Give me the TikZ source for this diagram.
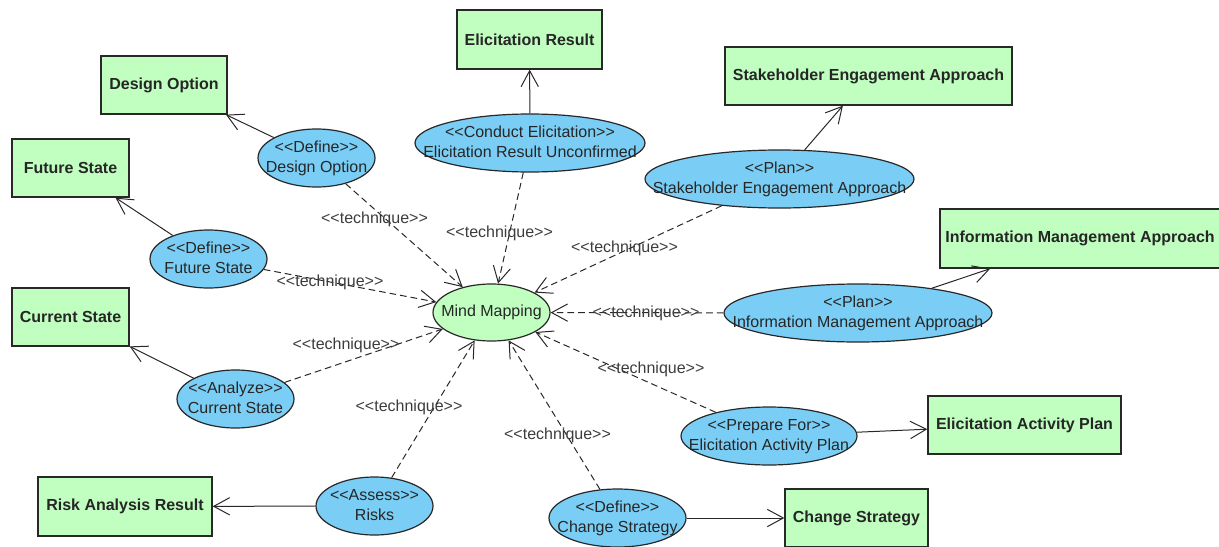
\documentclass[tikz,border=0pt]{standalone}
\usepackage{fontspec}
\setmainfont{Liberation Sans}
\usetikzlibrary{shapes.geometric,arrows.meta}

\definecolor{boxgreen}{RGB}{192,255,192}
\definecolor{ucblue}{RGB}{122,206,245}
\definecolor{edgegray}{RGB}{40,40,40}
\definecolor{labelgray}{RGB}{60,60,60}

% guillemet-style stereotype brackets without font ligatures
\newcommand{\stereo}[1]{<{}<#1>{}>}
% two centred lines that do not widen the ellipse around them
\newcommand{\twolines}[2]{\makebox[0pt]{\begin{tabular}{@{}c@{}}#1\\#2\end{tabular}}}

\tikzset{
  artifact/.style 2 args={draw=edgegray, line width=1pt, fill=boxgreen,
    rectangle, inner sep=0pt, minimum width=#1*0.75pt, minimum height=#2*0.75pt,
    font=\bfseries\fontsize{12}{14}\selectfont, text=black!85},
  usecase/.style 2 args={draw=edgegray, line width=0.9pt, fill=ucblue,
    ellipse, inner sep=0pt, minimum width=#1*0.75pt, minimum height=#2*0.75pt,
    font=\fontsize{12}{15}\selectfont, text=black!85},
  hub/.style 2 args={usecase={#1}{#2}, fill=boxgreen},
  opentip/.tip={Straight Barb[length=12pt, width=13pt, line width=0.75pt]},
  assoc/.style={draw=edgegray, line width=0.75pt, -opentip},
  technique/.style={draw=edgegray, line width=0.75pt, dash pattern=on 5pt off 3pt, -opentip},
  techlabel/.style={font=\fontsize{12}{14}\selectfont, text=labelgray, inner sep=0pt},
}

\begin{document}
\begin{tikzpicture}[x=0.75pt, y=-0.75pt]
\useasboundingbox (0,0) rectangle (1219,546);

% central technique
\node[hub={117}{57}] (mm) at (491.5,312.5) {\makebox[0pt]{Mind Mapping}};

% tasks
\node[usecase={117}{58}] (uDes) at (316.5,158) {\twolines{\stereo{Define}}{Design Option}};
\node[usecase={117}{58}] (uFut) at (208.5,259) {\twolines{\stereo{Define}}{Future State}};
\node[usecase={117}{58}] (uCur) at (235.5,399) {\twolines{\stereo{Analyze}}{Current State}};
\node[usecase={117}{58}] (uRisk) at (374.5,506) {\twolines{\stereo{Assess}}{Risks}};
\node[usecase={230}{58}] (uEli) at (530,143) {\twolines{\stereo{Conduct Elicitation}}{Elicitation Result Unconfirmed}};
\node[usecase={269}{58}] (uStk) at (779.5,179) {\twolines{\stereo{Plan}}{Stakeholder Engagement Approach}};
\node[usecase={268}{58}] (uInf) at (858,313) {\twolines{\stereo{Plan}}{Information Management Approach}};
\node[usecase={176}{58}] (uEap) at (769,436) {\twolines{\stereo{Prepare For}}{Elicitation Activity Plan}};
\node[usecase={137}{58}] (uChg) at (617.5,518) {\twolines{\stereo{Define}}{Change Strategy}};

% outputs
\node[artifact={126}{58}] (bDes) at (164,85) {Design Option};
\node[artifact={117}{58}] (bFut) at (70.5,168) {Future State};
\node[artifact={117}{58}] (bCur) at (70.5,317) {Current State};
\node[artifact={174}{59}] (bRisk) at (125,506.5) {Risk Analysis Result};
\node[artifact={145}{59}] (bEli) at (529.5,39.5) {Elicitation Result};
\node[artifact={287}{58}] (bStk) at (868.5,76) {Stakeholder Engagement Approach};
\node[artifact={280}{59}] (bInf) at (1080,238.5) {Information Management Approach};
\node[artifact={193}{58}] (bEap) at (1024.5,425) {Elicitation Activity Plan};
\node[artifact={143}{58}] (bChg) at (856.5,518) {Change Strategy};

% task -> output associations
\draw[assoc] (uDes) -- (bDes);
\draw[assoc] (uFut) -- (bFut);
\draw[assoc] (uCur) -- (bCur);
\draw[assoc] (uRisk) -- (bRisk);
\draw[assoc] (uEli) -- (bEli);
\draw[assoc] (uStk) -- (bStk);
\draw[assoc] (uInf) -- (bInf);
\draw[assoc] (uEap) -- (bEap);
\draw[assoc] (uChg) -- (bChg);

% technique dependencies
\draw[technique] (uDes) -- (mm);
\draw[technique] (uFut) -- (mm);
\draw[technique] (uCur) -- (mm);
\draw[technique] (uRisk) -- (mm);
\draw[technique] (uEli) -- (mm);
\draw[technique] (uStk) -- (mm);
\draw[technique] (uInf) -- (mm);
\draw[technique] (uEap) -- (mm);
\draw[technique] (uChg) -- (mm);

% dependency labels
\node[techlabel] (lDes) at (374.5,219) {\stereo{technique}};
\node[techlabel] (lFut) at (330,282) {\stereo{technique}};
\node[techlabel] (lCur) at (346,345) {\stereo{technique}};
\node[techlabel] (lRisk) at (409,407) {\stereo{technique}};
\node[techlabel] (lEli) at (499.5,233) {\stereo{technique}};
\node[techlabel] (lStk) at (624.5,248) {\stereo{technique}};
\node[techlabel] (lInf) at (646,313) {\stereo{technique}};
\node[techlabel] (lEap) at (651,369) {\stereo{technique}};
\node[techlabel] (lChg) at (557.5,435) {\stereo{technique}};
\end{tikzpicture}
\end{document}
